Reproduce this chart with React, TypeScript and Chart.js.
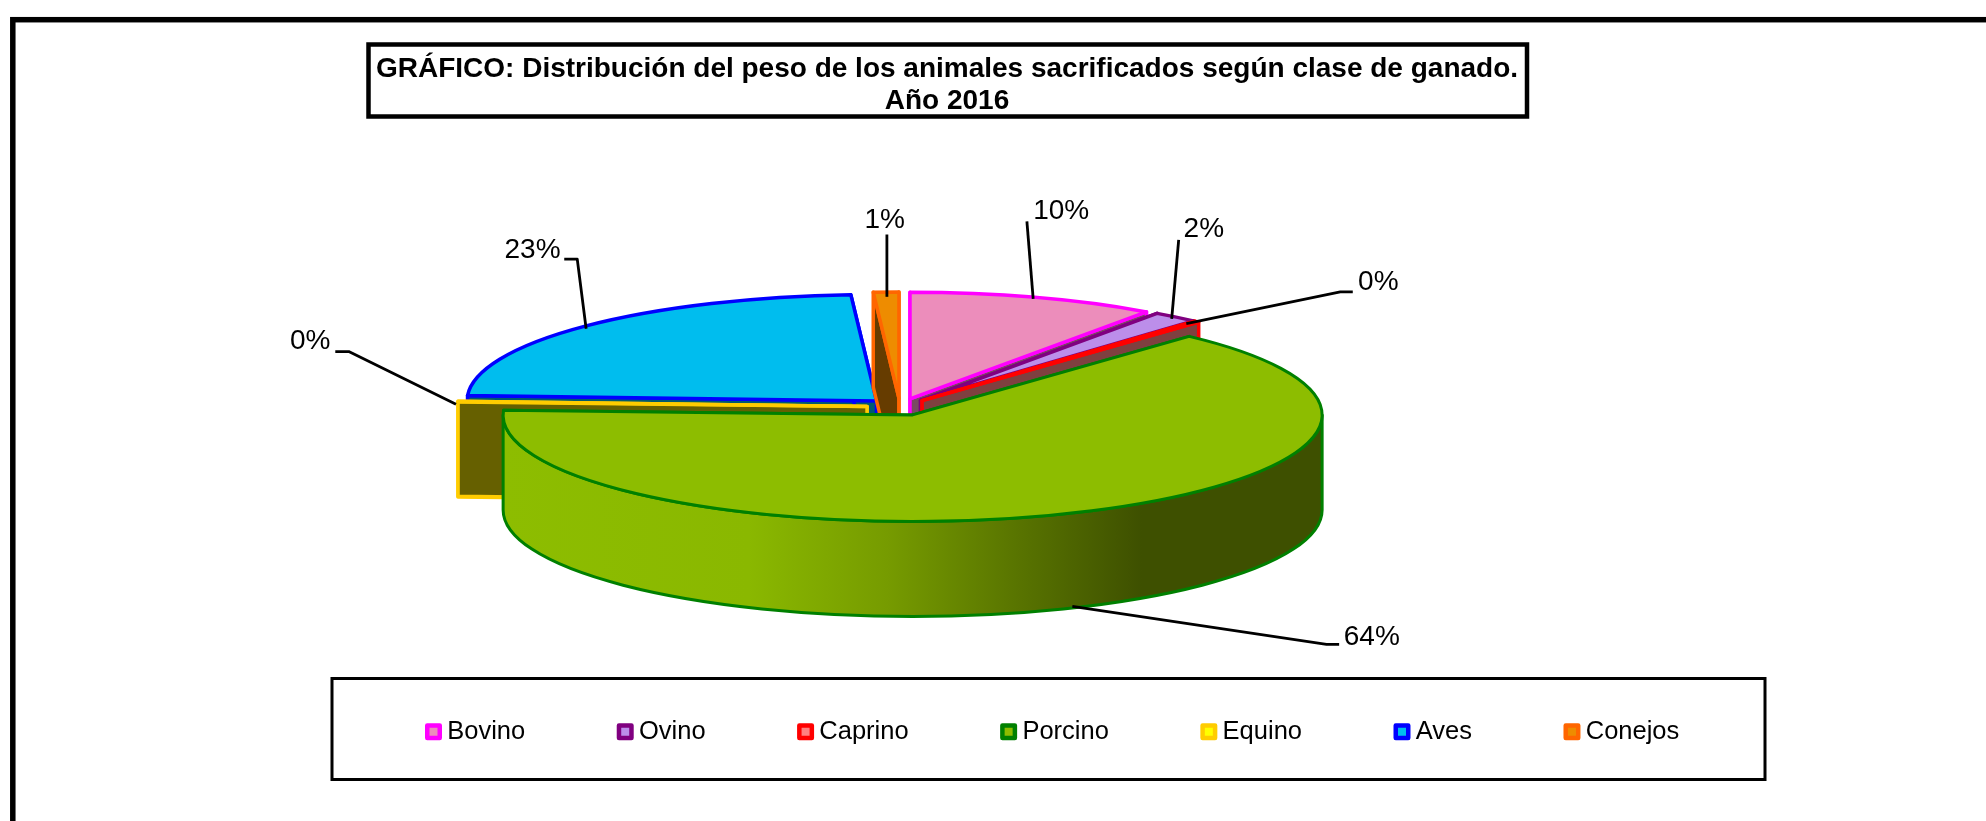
import React, { useEffect, useRef } from "react";
import { Chart, registerables } from "chart.js";

Chart.register(...registerables);

const categories = ["Bovino", "Ovino", "Caprino", "Porcino", "Equino", "Aves", "Conejos"];
const shares = [9.8, 1.8, 0.2, 63.9, 0.1, 23.2, 1.0];
const titleLines = [
  "GRÁFICO: Distribución del peso de los animales sacrificados según clase de ganado.",
  "Año 2016",
];

const topColors = ["#EC8DBB", "#BC8EEA", "#FF8080", "#8DBD00", "#FFFF00", "#00BDEE", "#EE8C00"];
const edgeColors = ["#FF00FF", "#800080", "#FF0000", "#008000", "#FFCC00", "#0000FF", "#FF6600"];
const sideColors = ["#7A4A62", "#7C5A8C", "#7F4040", "#3E5000", "#666000", "#005A70", "#663C00"];
const paintOrder = [5, 6, 0, 1, 2, 4, 3];

const FONT = '"Liberation Sans", Arial, sans-serif';
const PIE = { cx: 900, cy: 407, radius: 409.5, squash: 0.26, explode: 33, depth: 95 };

// Leader lines, relative to the rim point of each slice: polyline, then label anchor.
const leaders: { pts: number[][]; text: number[]; align: CanvasTextAlign }[] = [
  { pts: [[-0.9, 1.5], [-7.2, -76]], text: [-0.9, -86], align: "left" },
  { pts: [[-3.9, 2], [3.1, -77]], text: [8, -87.6], align: "left" },
  { pts: [[-10.5, 2], [143.5, -29.7], [156, -29.7]], text: [161.3, -39], align: "left" },
  { pts: [[3, -2], [257.2, 36], [269.8, 36]], text: [274.4, 28.7], align: "left" },
  { pts: [[-2, 2.7], [-109.2, -50], [-122.7, -50]], text: [-127.5, -60], align: "right" },
  { pts: [[1, 2.6], [-7.9, -67], [-20.9, -67]], text: [-24.6, -76], align: "right" },
  { pts: [[0.8, 4.8], [0.8, -57.5]], text: [18.8, -72], align: "right" },
];

const outerFrame = { x: 12.8, y: 19.7, w: 2000, h: 900, lw: 5.5 };
const titleFrame = { x: 368.5, y: 44.5, w: 1158.5, h: 72, lw: 4.5 };
const legendFrame = { x: 332, y: 678.5, w: 1433, h: 101, lw: 3 };
const titleCentre = 947;
const titleTop = 53;
const legendLeft = 333.5;
const legendTop = 620;

const pie3d = {
  id: "pie3d",
  beforeDraw(chart: any) {
    const c = chart.ctx;
    c.save();
    c.fillStyle = "#fff";
    c.fillRect(0, 0, chart.width, chart.height);
    c.strokeStyle = "#000";
    for (const f of [outerFrame, titleFrame, legendFrame]) {
      c.lineWidth = f.lw;
      c.strokeRect(f.x, f.y, f.w, f.h);
    }
    c.restore();
  },
  afterLayout(chart: any) {
    const t = chart.titleBlock;
    const w = t.right - t.left;
    t.left = titleCentre - w / 2;
    t.right = titleCentre + w / 2;
    t.top = titleTop;
    const l = chart.legend;
    const lw = l.right - l.left;
    l.left = legendLeft;
    l.right = legendLeft + lw + 400;
    l.top = legendTop;
    l.adjustHitBoxes();
  },
  beforeDatasetsDraw(chart: any) {
    const c = chart.ctx;
    const arcs = chart.getDatasetMeta(0).data;
    const { cx, cy, squash: k, explode: E, depth: D } = PIE;
    const geo = (arc: any) => {
      const mid = (arc.startAngle + arc.endAngle) / 2;
      const vx = cx + E * Math.cos(mid);
      const vy = cy + E * k * Math.sin(mid);
      const R = arc.outerRadius;
      const at = (a: number) => [vx + R * Math.cos(a), vy + R * k * Math.sin(a)];
      return { mid, vx, vy, R, at };
    };
    c.save();
    c.lineJoin = "round";
    for (const i of paintOrder) {
      const arc = arcs[i];
      const { vx, vy, R, at } = geo(arc);
      const s = arc.startAngle;
      const e = arc.endAngle;
      c.strokeStyle = edgeColors[i];
      c.lineWidth = i === 3 ? 3 : 3.5;
      // cut faces
      c.fillStyle = sideColors[i];
      for (const a of [s, e]) {
        const [px, py] = at(a);
        c.beginPath();
        c.moveTo(vx, vy);
        c.lineTo(px, py);
        c.lineTo(px, py + D);
        c.lineTo(vx, vy + D);
        c.closePath();
        c.fill();
        c.stroke();
      }
      // outer wall (front half only)
      const a0 = Math.max(s, 0);
      const a1 = Math.min(e, Math.PI);
      if (a1 > a0) {
        const g = c.createLinearGradient(vx - R, 0, vx + R, 0);
        g.addColorStop(0, "#8DBD00");
        g.addColorStop(0.3, "#8AB800");
        g.addColorStop(0.47, "#769B00");
        g.addColorStop(0.62, "#5A7600");
        g.addColorStop(0.78, "#3E5000");
        g.addColorStop(1, "#3E5000");
        c.fillStyle = g;
        c.beginPath();
        c.ellipse(vx, vy, R, R * k, 0, a0, a1);
        c.ellipse(vx, vy + D, R, R * k, 0, a1, a0, true);
        c.closePath();
        c.fill();
        c.stroke();
      }
      // top face: filled by the library's own arc element under a squash transform
      c.save();
      c.translate(vx, vy);
      c.scale(1, k);
      c.translate(-arc.x, -arc.y);
      arc.draw(c);
      c.restore();
      c.beginPath();
      c.moveTo(vx, vy);
      c.ellipse(vx, vy, R, R * k, 0, s, e);
      c.closePath();
      c.stroke();
    }
    // leaders + percentage labels
    const total = shares.reduce((a, b) => a + b, 0);
    c.font = `28px ${FONT}`;
    c.textBaseline = "middle";
    arcs.forEach((arc: any, i: number) => {
      const { mid } = geo(arc);
      const rimX = cx + (E + arc.outerRadius) * Math.cos(mid);
      const frontWall = Math.sin(mid) > 0 ? D : 0;
      const rimY = cy + (E + arc.outerRadius) * k * Math.sin(mid) + frontWall;
      const l = leaders[i];
      c.strokeStyle = "#000";
      c.lineWidth = 2.8;
      c.beginPath();
      l.pts.forEach((p, j) => {
        if (j === 0) c.moveTo(rimX + p[0], rimY + p[1]);
        else c.lineTo(rimX + p[0], rimY + p[1]);
      });
      c.stroke();
      c.fillStyle = "#000";
      c.textAlign = l.align;
      c.fillText(`${Math.round((shares[i] / total) * 100)}%`, rimX + l.text[0], rimY + l.text[1]);
    });
    c.restore();
    return false;
  },
};

export default function App() {
  const ref = useRef<HTMLCanvasElement>(null);
  useEffect(() => {
    const chart = new Chart(ref.current as HTMLCanvasElement, {
      type: "pie",
      data: {
        labels: categories,
        datasets: [
          {
            data: shares,
            backgroundColor: topColors,
            borderWidth: 0,
            radius: PIE.radius,
          } as any,
        ],
      },
      options: {
        animation: false,
        responsive: false,
        events: [],
        layout: { padding: 0 },
        plugins: {
          tooltip: { enabled: false },
          title: {
            display: true,
            text: titleLines,
            color: "#000",
            padding: 0,
            font: { family: FONT, size: 28, weight: "bold", lineHeight: 32.5 / 28 },
          },
          legend: {
            display: true,
            position: "bottom",
            align: "start",
            labels: {
              color: "#000",
              font: { family: FONT, size: 25.5 },
              padding: 99,
              usePointStyle: true,
              pointStyle: "rect",
              boxWidth: 2,
              boxHeight: 12.5,
              generateLabels: () =>
                categories.map((text, i) => ({
                  text,
                  fillStyle: topColors[i],
                  strokeStyle: edgeColors[i],
                  lineWidth: 4.5,
                  lineJoin: "round",
                  pointStyle: "rect",
                  fontColor: "#000",
                  hidden: false,
                  index: i,
                })),
            },
          },
        },
      } as any,
      plugins: [pie3d],
    });
    return () => chart.destroy();
  }, []);
  return (
    <div style={{ position: "fixed", left: 0, top: 0, width: 1986, height: 821 }}>
      <canvas ref={ref} width={1986} height={821} style={{ display: "block" }} />
    </div>
  );
}
